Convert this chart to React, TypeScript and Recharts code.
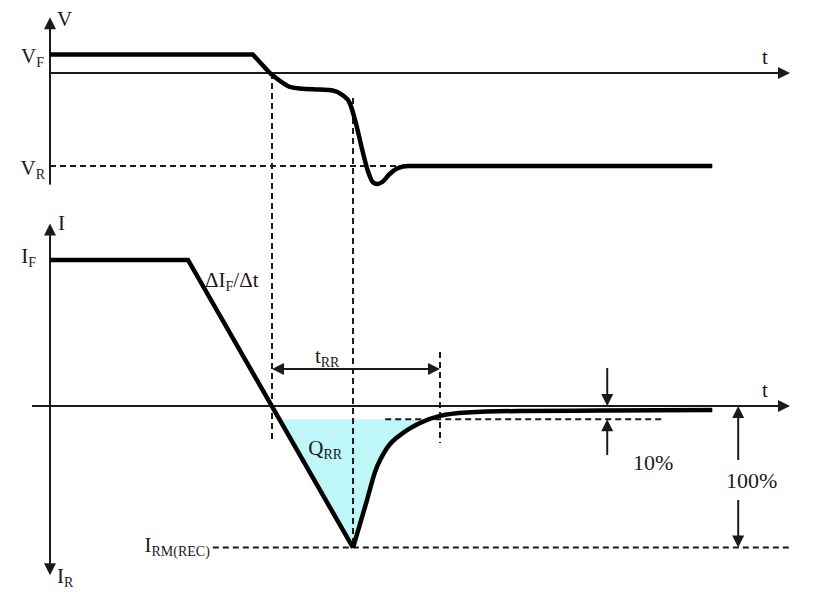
import React from 'react';
import { ComposedChart, Line, Area, XAxis, YAxis, ReferenceLine, ReferenceDot } from 'recharts';

// schematic diode reverse recovery: time in ns, voltage in V, current in A
const vRampTime = [0, 27.4, 29.7];
const vRampValue = [1, 1, 0];
const vRecTime = [29.7, 31.5, 32.4, 33.8, 36.5, 38.2, 39.5, 40.5, 41.4, 42.2, 43.0, 43.6, 44.2, 44.9, 45.9, 47.0, 48.4, 89.5];
const vRecValue = [0, -0.54, -0.75, -0.83, -0.89, -0.94, -1.18, -1.61, -2.8, -4.14, -5.32, -5.86, -5.97, -5.86, -5.43, -5.11, -5.0, -5.0];

const iFallTime = [0, 18.65, 40.95];
const iFallValue = [10, 10, -9.7];
const iRecTime = [40.95, 42.84, 43.92, 45.54, 47.7, 50.0, 52.7, 56.35, 63.5, 74.3, 89.5];
const iRecValue = [-9.7, -6.44, -4.52, -2.88, -1.85, -1.16, -0.68, -0.45, -0.34, -0.31, -0.27];

// levels and marked instants
const V_F = 1;
const V_R = -5;
const I_F = 10;
const I_RM = -9.7;
const I_10 = -0.9; // 10% recovery level
const T_ZERO = 30; // current zero crossing
const T_RM = 40.95;
const T_RR_END = 52.7;
const T_END = 100;

// axis ranges (page layout)
const T_DOMAIN = [-6.757, 103.243];
const V_DOMAIN = [-28.387, 3.925];
const I_DOMAIN = [-13.356, 27.808];

const FONT = "'Liberation Serif', 'Times New Roman', serif";
const INK = '#1a1a1a';

const zip = (t: number[], v: number[], key: string) => t.map((x, k) => ({ t: x, [key]: v[k] }));

const vRamp = zip(vRampTime, vRampValue, 'v');
const vRec = zip(vRecTime, vRecValue, 'v');
const iFall = zip(iFallTime, iFallValue, 'i');
const iRec = zip(iRecTime, iRecValue, 'i');

// shaded Q_RR region between the current and the 10% level
const crossT = (t: number[], v: number[], level: number) => {
  for (let k = 0; k < t.length - 1; k++) {
    if ((v[k] - level) * (v[k + 1] - level) <= 0) {
      return t[k] + ((level - v[k]) / (v[k + 1] - v[k])) * (t[k + 1] - t[k]);
    }
  }
  return t[t.length - 1];
};
const qFallStart = crossT(iFallTime, iFallValue, I_10);
const qFall = [
  { t: qFallStart, r: [I_10, I_10] },
  { t: T_RM, r: [I_RM, I_10] },
];
const qRecEnd = crossT(iRecTime, iRecValue, I_10);
const qRec = [
  ...iRecTime.filter((t) => t < qRecEnd).map((t, k) => ({ t, r: [iRecValue[k], I_10] })),
  { t: qRecEnd, r: [I_10, I_10] },
];

type Ends = 'none' | 'start' | 'end' | 'both';
const arrowLine = (ends: Ends, dash?: string, width = 2) => (p: any) => {
  const { x1, y1, x2, y2 } = p;
  const h = 12;
  const len = Math.hypot(x2 - x1, y2 - y1) || 1;
  const ux = (x2 - x1) / len;
  const uy = (y2 - y1) / len;
  const hs = ends === 'start' || ends === 'both';
  const he = ends === 'end' || ends === 'both';
  const head = (tx: number, ty: number, dx: number, dy: number) => {
    const bx = tx - dx * h;
    const by = ty - dy * h;
    return `${tx},${ty} ${bx - dy * 6},${by + dx * 6} ${bx + dy * 6},${by - dx * 6}`;
  };
  return (
    <g>
      <line
        x1={x1 + (hs ? ux * h * 0.8 : 0)}
        y1={y1 + (hs ? uy * h * 0.8 : 0)}
        x2={x2 - (he ? ux * h * 0.8 : 0)}
        y2={y2 - (he ? uy * h * 0.8 : 0)}
        stroke={INK}
        strokeWidth={width}
        strokeDasharray={dash}
      />
      {hs && <polygon points={head(x1, y1, -ux, -uy)} fill={INK} />}
      {he && <polygon points={head(x2, y2, ux, uy)} fill={INK} />}
    </g>
  );
};

type Part = [string, boolean];
const textShape = (parts: Part[], dx = 0, dy = 0, anchor: 'start' | 'middle' | 'end' = 'start', size = 21) => (p: any) => {
  let sub = false;
  return (
    <text x={p.cx + dx} y={p.cy + dy} textAnchor={anchor} fontFamily={FONT} fontSize={size} fill={INK}>
      {parts.map(([s, isSub], k) => {
        const shift = isSub === sub ? 0 : isSub ? 4 : -4;
        sub = isSub;
        return (
          <tspan key={k} dy={shift} fontSize={isSub ? 14 : size}>
            {s}
          </tspan>
        );
      })}
    </text>
  );
};

const segs: { axis: 'v' | 'i'; a: [number, number]; b: [number, number]; ends: Ends; dash?: string }[] = [
  // axes
  { axis: 'v', a: [0, -6.0], b: [0, 3.0], ends: 'end' },
  { axis: 'v', a: [0, 0], b: [T_END, 0], ends: 'end' },
  { axis: 'i', a: [0, -11.6], b: [0, 12.5], ends: 'both' },
  { axis: 'i', a: [-2.43, 0], b: [T_END, 0], ends: 'end' },
  // guides
  { axis: 'v', a: [0, V_R], b: [48, V_R], ends: 'none', dash: '6 4' },
  { axis: 'i', a: [22, I_RM], b: [T_END, I_RM], ends: 'none', dash: '6 4' },
  { axis: 'i', a: [45.3, I_10], b: [82.7, I_10], ends: 'none', dash: '6 4' },
  { axis: 'i', a: [T_ZERO, 22.8], b: [T_ZERO, -2.53], ends: 'none', dash: '6 4' },
  { axis: 'i', a: [T_RM, 21.1], b: [T_RM, I_RM], ends: 'none', dash: '6 4' },
  { axis: 'i', a: [T_RR_END, 3.7], b: [T_RR_END, -2.53], ends: 'none', dash: '6 4' },
  // dimension arrows
  { axis: 'i', a: [T_ZERO, 2.53], b: [T_RR_END, 2.53], ends: 'both' },
  { axis: 'i', a: [75.3, 2.6], b: [75.3, 0], ends: 'end' },
  { axis: 'i', a: [75.3, -3.36], b: [75.3, I_10], ends: 'end' },
  { axis: 'i', a: [93, -3.7], b: [93, 0], ends: 'end' },
  { axis: 'i', a: [93, -6.44], b: [93, I_RM], ends: 'end' },
];

const labels: { axis: 'v' | 'i'; at: [number, number]; parts: Part[]; dx?: number; dy?: number; anchor?: 'start' | 'middle' | 'end'; size?: number }[] = [
  { axis: 'v', at: [0, 3.0], parts: [['V', false]], dx: 7, dy: 9 },
  { axis: 'v', at: [0, V_F], parts: [['V', false], ['F', true]], dx: -6, dy: 9, anchor: 'end' },
  { axis: 'v', at: [0, V_R], parts: [['V', false], ['R', true]], dx: -5, dy: 9, anchor: 'end' },
  { axis: 'v', at: [T_END, 0], parts: [['t', false]], dx: -28, dy: -9 },
  { axis: 'i', at: [0, 12.5], parts: [['I', false]], dx: 8, dy: 7 },
  { axis: 'i', at: [0, I_F], parts: [['I', false], ['F', true]], dx: -14, dy: 3, anchor: 'end' },
  { axis: 'i', at: [0, -11.6], parts: [['I', false], ['R', true]], dx: 7, dy: 8 },
  { axis: 'i', at: [T_END, 0], parts: [['t', false]], dx: -28, dy: -9 },
  { axis: 'i', at: [20.95, 8.15], parts: [['ΔI', false], ['F', true], ['/Δt', false]] },
  { axis: 'i', at: [35.8, 2.95], parts: [['t', false], ['RR', true]] },
  { axis: 'i', at: [34.9, -3.36], parts: [['Q', false], ['RR', true]] },
  { axis: 'i', at: [22, I_RM], parts: [['I', false], ['RM(REC)', true]], dx: -3, dy: 4, anchor: 'end' },
  { axis: 'i', at: [78.8, -4.38], parts: [['10%', false]], size: 22 },
  { axis: 'i', at: [91.35, -5.62], parts: [['100%', false]], size: 22 },
];

const App = () => {
  return (
    <div style={{ position: 'absolute', left: 0, top: 0, background: '#fff' }}>
      <ComposedChart width={814} height={601} margin={{ top: 0, right: 0, bottom: 0, left: 0 }}>
        <XAxis type="number" dataKey="t" domain={T_DOMAIN} hide allowDataOverflow />
        <YAxis yAxisId="v" type="number" domain={V_DOMAIN} hide allowDataOverflow />
        <YAxis yAxisId="i" type="number" domain={I_DOMAIN} hide allowDataOverflow />

        <Area yAxisId="i" data={qFall} dataKey="r" type="linear" stroke="none" fill="#bff6f8" fillOpacity={1} dot={false} activeDot={false} isAnimationActive={false} />
        <Area yAxisId="i" data={qRec} dataKey="r" type="monotone" stroke="none" fill="#bff6f8" fillOpacity={1} dot={false} activeDot={false} isAnimationActive={false} />

        {segs.map((s, k) => (
          <ReferenceLine
            key={'s' + k}
            yAxisId={s.axis}
            segment={[{ x: s.a[0], y: s.a[1] }, { x: s.b[0], y: s.b[1] }]}
            ifOverflow="visible"
            shape={arrowLine(s.ends, s.dash)}
          />
        ))}

        <Line yAxisId="v" data={vRamp} dataKey="v" type="linear" stroke="#000" strokeWidth={4.5} dot={false} activeDot={false} isAnimationActive={false} />
        <Line yAxisId="v" data={vRec} dataKey="v" type="monotone" stroke="#000" strokeWidth={4.5} dot={false} activeDot={false} isAnimationActive={false} />
        <Line yAxisId="i" data={iFall} dataKey="i" type="linear" stroke="#000" strokeWidth={4.5} dot={false} activeDot={false} isAnimationActive={false} />
        <Line yAxisId="i" data={iRec} dataKey="i" type="monotone" stroke="#000" strokeWidth={4.5} dot={false} activeDot={false} isAnimationActive={false} />

        {labels.map((l, k) => (
          <ReferenceDot
            key={'l' + k}
            yAxisId={l.axis}
            x={l.at[0]}
            y={l.at[1]}
            r={0}
            ifOverflow="visible"
            shape={textShape(l.parts, l.dx ?? 0, l.dy ?? 0, l.anchor ?? 'start', l.size ?? 21)}
          />
        ))}
      </ComposedChart>
    </div>
  );
};

export default App;
